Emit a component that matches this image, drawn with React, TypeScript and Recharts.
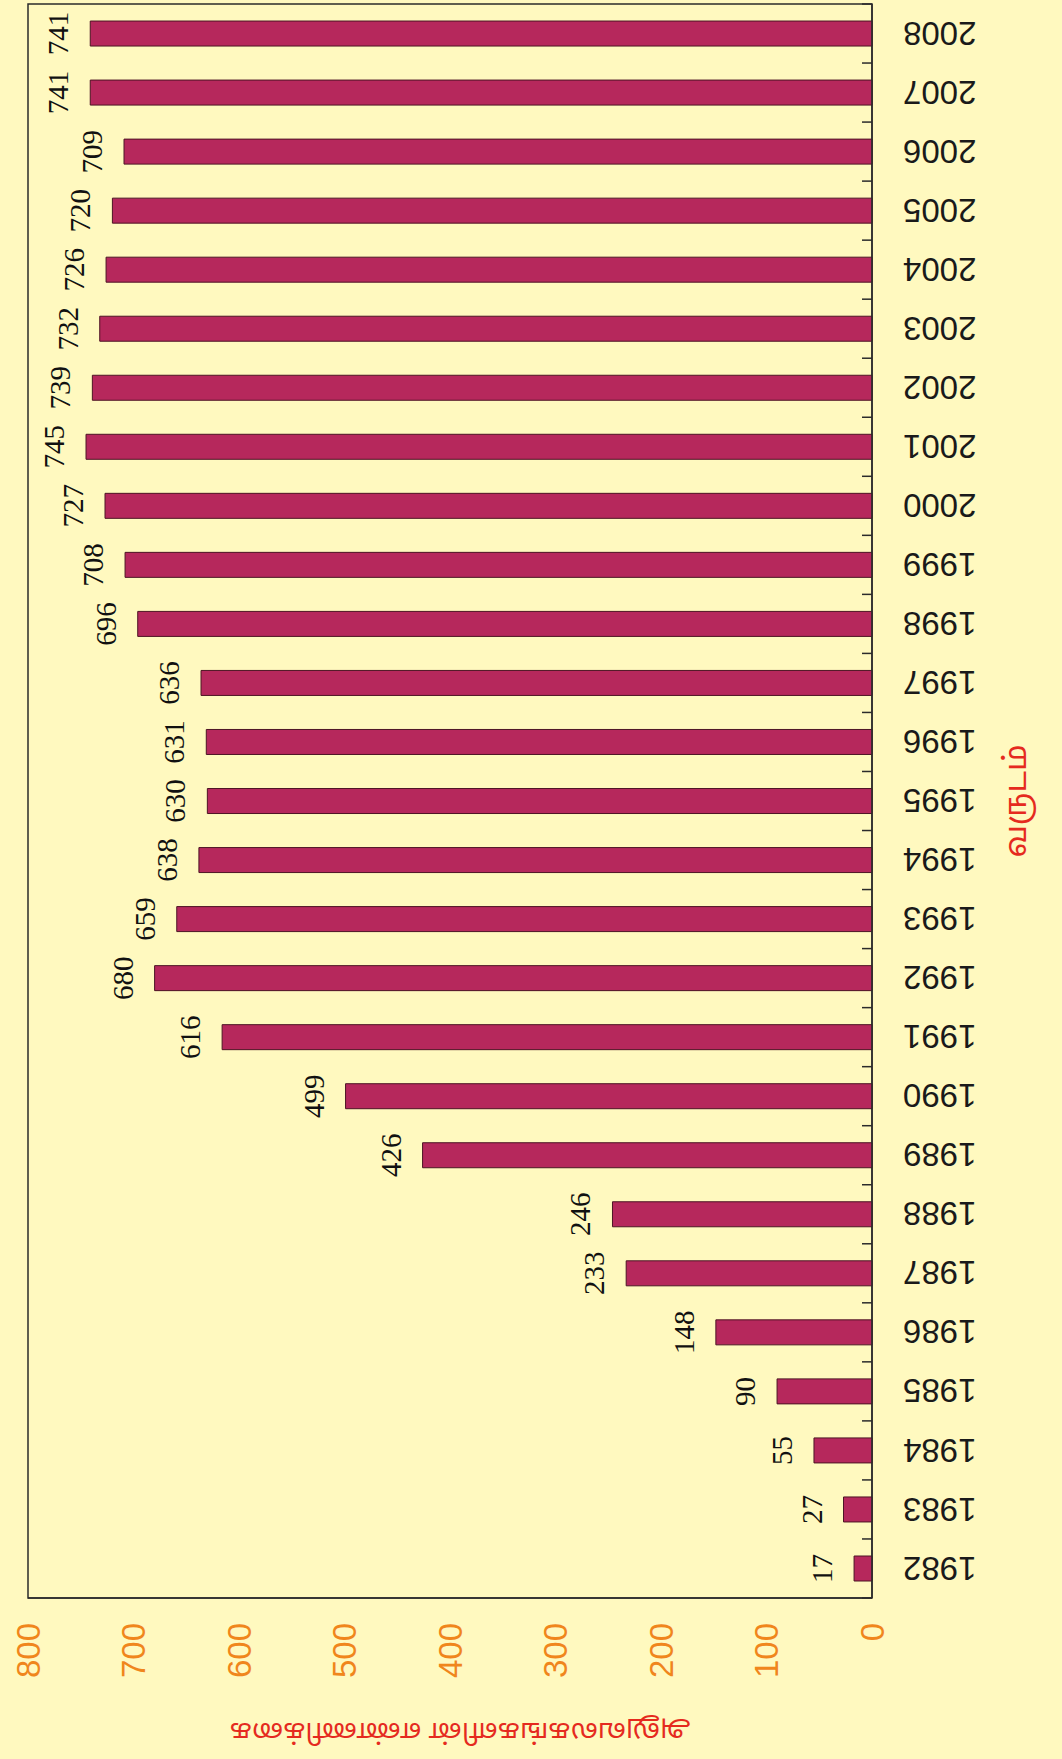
import { Bar, BarChart, Label, LabelList, ReferenceArea, XAxis, YAxis } from "recharts";

const years = [
  "1982", "1983", "1984", "1985", "1986", "1987", "1988", "1989", "1990",
  "1991", "1992", "1993", "1994", "1995", "1996", "1997", "1998", "1999",
  "2000", "2001", "2002", "2003", "2004", "2005", "2006", "2007", "2008",
];

const counts = [
  17, 27, 55, 90, 148, 233, 246, 426, 499,
  616, 680, 659, 638, 630, 631, 636, 696, 708,
  727, 745, 739, 732, 726, 720, 709, 741, 741,
];

const valueTicks = [0, 100, 200, 300, 400, 500, 600, 700, 800];

const yTitle = "அலுவலகங்களின் எண்ணிக்கை";
const xTitle = "வருடம்";

// the scan is a normal column chart turned a quarter turn, so draw it upright and rotate it
const PAGE_W = 1062;
const PAGE_H = 1759;
const PLOT_TOP = 28;
const PLOT_W = 1594;
const BAND = PLOT_W / years.length;
const YEAR_GAP = 31;

const sans = "'Liberation Sans', Arial, Helvetica, sans-serif";
const serif = "'Liberation Serif', 'Times New Roman', serif";
const tamil = "'Noto Sans Tamil', 'Lohit Tamil', Latha, 'Noto Sans', sans-serif";
const lineColor = "#2b2b2b";
const titleColor = "#e52a1e";

function YearTick(props: any) {
  const { x, y, payload, index } = props;
  const axisY = y - YEAR_GAP;
  const half = BAND / 2;
  return (
    <g>
      <line x1={x - half} x2={x - half} y1={axisY} y2={axisY - 10} stroke={lineColor} strokeWidth={1.5} />
      {index === years.length - 1 && (
        <line x1={x + half} x2={x + half} y1={axisY} y2={axisY - 10} stroke={lineColor} strokeWidth={1.5} />
      )}
      <text
        x={x}
        y={y}
        dy="0.36em"
        textAnchor="end"
        transform={`rotate(-90 ${x} ${y})`}
        fill="#1a1a1a"
        fontSize={33}
        fontFamily={sans}
      >
        {payload.value}
      </text>
    </g>
  );
}

function YTitle(props: any) {
  const vb = props.viewBox;
  const cx = vb.x + 30;
  const cy = PLOT_TOP + 432;
  return (
    <text
      x={cx}
      y={cy}
      transform={`rotate(-90 ${cx} ${cy})`}
      textAnchor="middle"
      dominantBaseline="central"
      fill={titleColor}
      fontSize={27}
      fontFamily={tamil}
    >
      {yTitle}
    </text>
  );
}

function XTitle(props: any) {
  const vb = props.viewBox;
  return (
    <text
      x={vb.x + vb.width / 2}
      y={vb.y + 146}
      textAnchor="middle"
      dominantBaseline="central"
      fill={titleColor}
      fontSize={31}
      fontFamily={tamil}
    >
      {xTitle}
    </text>
  );
}

export default function App() {
  const data = years.map((year, i) => ({ year, count: counts[i] }));

  return (
    <div
      style={{
        position: "absolute",
        left: 0,
        top: 0,
        width: PAGE_W,
        height: PAGE_H,
        background: "#fff9bf",
        overflow: "hidden",
      }}
    >
      <div
        style={{
          position: "absolute",
          left: 0,
          top: 0,
          width: PAGE_H,
          height: PAGE_W,
          transformOrigin: "0 0",
          transform: `translateY(${PAGE_H}px) rotate(-90deg)`,
        }}
      >
        <BarChart
          width={PAGE_H}
          height={PAGE_W}
          data={data}
          margin={{ top: PLOT_TOP, right: 4, bottom: 0, left: 0 }}
        >
          <XAxis
            dataKey="year"
            height={190}
            interval={0}
            tickSize={0}
            tickMargin={YEAR_GAP}
            tickLine={false}
            tick={<YearTick />}
            axisLine={{ stroke: lineColor, strokeWidth: 1.5 }}
          >
            <Label content={<XTitle />} />
          </XAxis>
          <YAxis
            width={161}
            domain={[0, 800]}
            ticks={valueTicks}
            interval={0}
            tickSize={0}
            tickMargin={25}
            tickLine={false}
            axisLine={{ stroke: lineColor, strokeWidth: 1.5 }}
            tick={{ fill: "#f0861c", fontSize: 33, fontFamily: sans }}
          >
            <Label content={<YTitle />} />
          </YAxis>
          <Bar
            dataKey="count"
            fill="#b6285c"
            stroke="#4d1424"
            strokeWidth={1}
            barSize={25}
            isAnimationActive={false}
          >
            <LabelList
              dataKey="count"
              position="top"
              offset={22}
              fill="#111111"
              fontSize={29}
              fontFamily={serif}
            />
          </Bar>
          <ReferenceArea
            y1={0}
            y2={800}
            fill="none"
            fillOpacity={0}
            stroke={lineColor}
            strokeWidth={1.5}
            ifOverflow="visible"
          />
        </BarChart>
      </div>
    </div>
  );
}
